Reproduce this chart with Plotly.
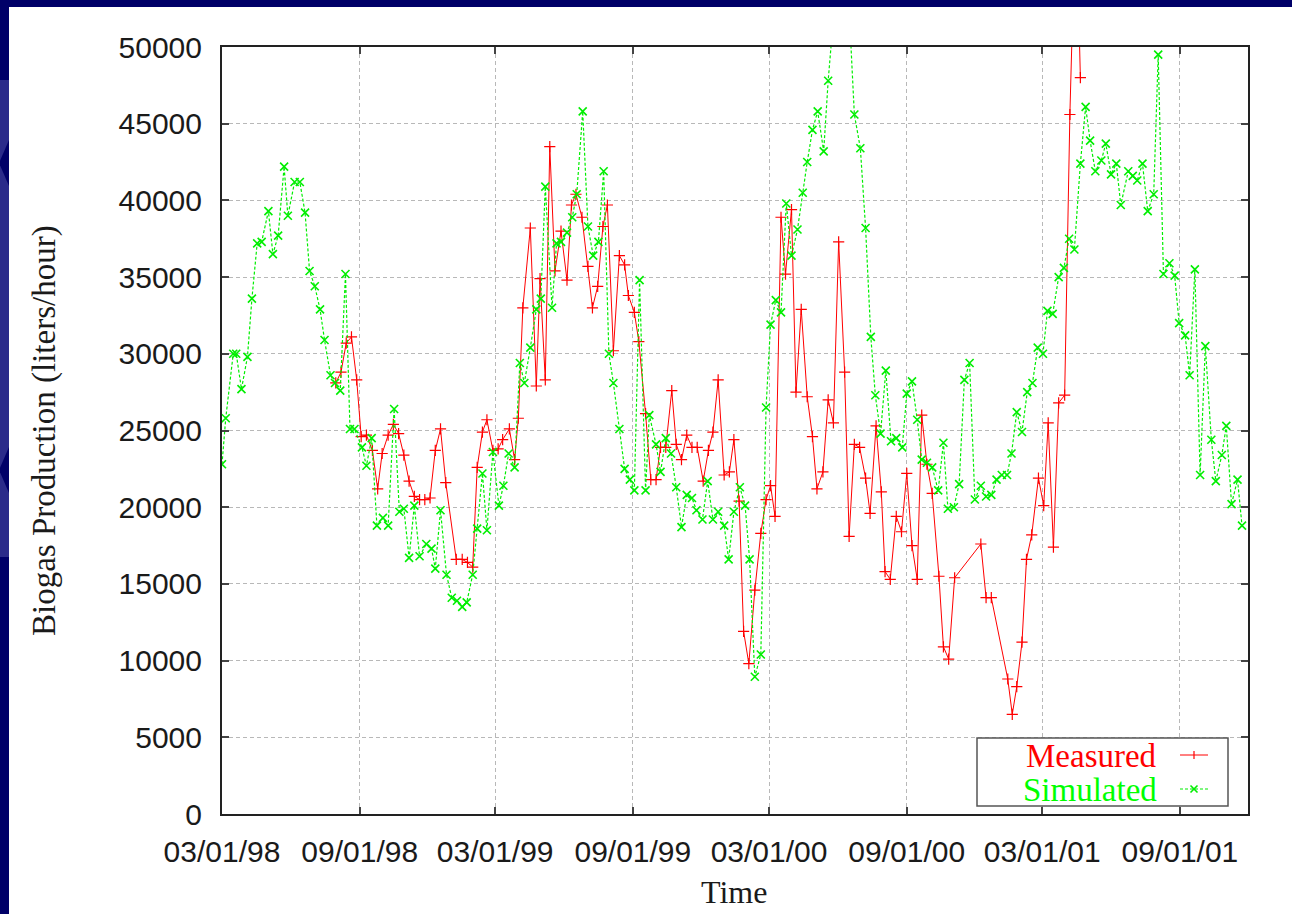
import plotly.graph_objects as go

# Weekly biogas production, measured vs. simulated (liters/hour)
meas_dates = [
    "1998-07-31", "1998-08-07", "1998-08-14", "1998-08-21", "1998-08-28", "1998-09-03",
    "1998-09-10", "1998-09-18", "1998-09-25", "1998-10-01", "1998-10-09", "1998-10-16",
    "1998-10-23", "1998-10-30", "1998-11-06", "1998-11-13", "1998-11-20", "1998-11-27",
    "1998-12-04", "1998-12-11", "1998-12-18", "1998-12-25", "1999-01-08", "1999-01-16",
    "1999-01-23", "1999-01-30", "1999-02-05", "1999-02-12", "1999-02-18", "1999-02-26",
    "1999-03-05", "1999-03-11", "1999-03-20", "1999-03-27", "1999-04-01", "1999-04-07",
    "1999-04-17", "1999-04-25", "1999-04-30", "1999-05-07", "1999-05-13", "1999-05-20",
    "1999-05-28", "1999-06-05", "1999-06-11", "1999-06-17", "1999-06-25", "1999-07-03",
    "1999-07-09", "1999-07-16", "1999-07-23", "1999-07-29", "1999-08-06", "1999-08-14",
    "1999-08-21", "1999-08-26", "1999-09-03", "1999-09-09", "1999-09-18", "1999-09-25",
    "1999-10-02", "1999-10-08", "1999-10-15", "1999-10-23", "1999-10-29", "1999-11-05",
    "1999-11-12", "1999-11-19", "1999-11-26", "1999-12-04", "1999-12-11", "1999-12-17",
    "1999-12-24", "2000-01-01", "2000-01-08", "2000-01-14", "2000-01-21", "2000-01-27",
    "2000-02-03", "2000-02-11", "2000-02-19", "2000-02-26", "2000-03-03", "2000-03-09",
    "2000-03-17", "2000-03-23", "2000-03-31", "2000-04-06", "2000-04-13", "2000-04-21",
    "2000-04-28", "2000-05-04", "2000-05-12", "2000-05-19", "2000-05-26", "2000-06-02",
    "2000-06-10", "2000-06-16", "2000-06-23", "2000-06-30", "2000-07-08", "2000-07-14",
    "2000-07-22", "2000-07-29", "2000-08-03", "2000-08-10", "2000-08-18", "2000-08-25",
    "2000-09-01", "2000-09-08", "2000-09-15", "2000-09-21", "2000-09-28", "2000-10-05",
    "2000-10-14", "2000-10-20", "2000-10-27", "2000-11-04", "2000-12-09", "2000-12-16",
    "2000-12-23", "2001-01-14", "2001-01-20", "2001-01-26", "2001-02-02", "2001-02-08",
    "2001-02-15", "2001-02-24", "2001-03-03", "2001-03-09", "2001-03-16", "2001-03-23",
    "2001-03-31", "2001-04-07", "2001-04-15", "2001-04-21",
]
meas_values = [
    28100, 28800, 30700, 31100, 28300, 24600,
    24700, 23700, 21200, 23500, 24700, 25400,
    24800, 23400, 21700, 20700, 20500, 20500,
    20600, 23700, 25100, 21600, 16600, 16600,
    16400, 16100, 22600, 24900, 25700, 23700,
    23800, 24400, 25100, 23100, 25800, 33000,
    38200, 27900, 34900, 28300, 43500, 35400,
    38000, 34800, 39700, 40400, 38900, 35700,
    33000, 34400, 38300, 39700, 30200, 36400,
    35800, 33800, 32700, 30800, 26100, 21800,
    21800, 23900, 23900, 27600, 24100, 23100,
    24700, 23900, 23900, 21700, 23700, 24900,
    28300, 22100, 22300, 24400, 20400, 11900,
    9800, 14600, 18300, 20500, 21400, 19400,
    38900, 35200, 39400, 27500, 32900, 27200,
    24600, 21200, 22300, 27000, 25500, 37300,
    28800, 18100, 24100, 23900, 21900, 19600,
    25300, 21000, 15800, 15300, 19400, 18400,
    22200, 17500, 15300, 26000, 22800, 20900,
    15500, 10900, 10100, 15400, 17600, 14100,
    14100, 8800, 6500, 8300, 11200, 16600,
    18200, 21900, 20100, 25500, 17400, 26800,
    27300, 45600, 60000, 48000,
]

sim_dates = [
    "1998-03-01", "1998-03-06", "1998-03-16", "1998-03-20", "1998-03-27", "1998-04-04",
    "1998-04-10", "1998-04-17", "1998-04-23", "1998-05-02", "1998-05-08", "1998-05-15",
    "1998-05-23", "1998-05-28", "1998-06-06", "1998-06-13", "1998-06-20", "1998-06-26",
    "1998-07-03", "1998-07-10", "1998-07-16", "1998-07-24", "1998-07-30", "1998-08-06",
    "1998-08-13", "1998-08-19", "1998-08-25", "1998-09-04", "1998-09-10", "1998-09-17",
    "1998-09-24", "1998-10-02", "1998-10-09", "1998-10-17", "1998-10-24", "1998-10-30",
    "1998-11-06", "1998-11-13", "1998-11-20", "1998-11-29", "1998-12-06", "1998-12-11",
    "1998-12-18", "1998-12-26", "1999-01-02", "1999-01-09", "1999-01-16", "1999-01-22",
    "1999-01-30", "1999-02-05", "1999-02-12", "1999-02-18", "1999-02-26", "1999-03-06",
    "1999-03-12", "1999-03-19", "1999-03-27", "1999-04-03", "1999-04-09", "1999-04-17",
    "1999-04-25", "1999-05-01", "1999-05-07", "1999-05-16", "1999-05-22", "1999-05-28",
    "1999-06-05", "1999-06-12", "1999-06-18", "1999-06-26", "1999-07-03", "1999-07-10",
    "1999-07-17", "1999-07-24", "1999-07-31", "1999-08-06", "1999-08-14", "1999-08-21",
    "1999-08-28", "1999-09-03", "1999-09-10", "1999-09-18", "1999-09-23", "1999-10-02",
    "1999-10-08", "1999-10-15", "1999-10-22", "1999-10-29", "1999-11-05", "1999-11-12",
    "1999-11-19", "1999-11-25", "1999-12-03", "1999-12-10", "1999-12-17", "1999-12-24",
    "2000-01-01", "2000-01-07", "2000-01-14", "2000-01-22", "2000-01-29", "2000-02-04",
    "2000-02-11", "2000-02-19", "2000-02-26", "2000-03-03", "2000-03-10", "2000-03-17",
    "2000-03-24", "2000-03-31", "2000-04-08", "2000-04-15", "2000-04-21", "2000-04-28",
    "2000-05-05", "2000-05-13", "2000-05-19", "2000-05-27", "2000-06-02", "2000-06-09",
    "2000-06-17", "2000-06-23", "2000-07-01", "2000-07-08", "2000-07-15", "2000-07-21",
    "2000-07-28", "2000-08-04", "2000-08-11", "2000-08-18", "2000-08-26", "2000-09-01",
    "2000-09-08", "2000-09-15", "2000-09-21", "2000-09-28", "2000-10-05", "2000-10-13",
    "2000-10-20", "2000-10-26", "2000-11-03", "2000-11-10", "2000-11-17", "2000-11-24",
    "2000-12-01", "2000-12-09", "2000-12-16", "2000-12-23", "2000-12-30", "2001-01-06",
    "2001-01-13", "2001-01-19", "2001-01-26", "2001-02-02", "2001-02-09", "2001-02-16",
    "2001-02-23", "2001-03-02", "2001-03-08", "2001-03-15", "2001-03-23", "2001-03-30",
    "2001-04-06", "2001-04-13", "2001-04-21", "2001-04-28", "2001-05-04", "2001-05-11",
    "2001-05-19", "2001-05-25", "2001-06-01", "2001-06-08", "2001-06-14", "2001-06-24",
    "2001-06-30", "2001-07-06", "2001-07-13", "2001-07-20", "2001-07-28", "2001-08-03",
    "2001-08-10", "2001-08-18", "2001-08-25", "2001-08-31", "2001-09-08", "2001-09-14",
    "2001-09-21", "2001-09-28", "2001-10-05", "2001-10-13", "2001-10-19", "2001-10-27",
    "2001-11-02", "2001-11-09", "2001-11-17", "2001-11-23",
]
sim_values = [
    22800, 25800, 30000, 30000, 27700, 29800,
    33600, 37200, 37300, 39300, 36500, 37700,
    42200, 39000, 41200, 41200, 39200, 35400,
    34400, 32900, 30900, 28600, 28100, 27600,
    35200, 25100, 25100, 23900, 22700, 24500,
    18800, 19300, 18800, 26400, 19700, 19900,
    16700, 20100, 16800, 17600, 17300, 16000,
    19800, 15600, 14100, 13900, 13500, 13800,
    15600, 18600, 22200, 18500, 23600, 20100,
    21400, 23500, 22600, 29400, 28100, 30400,
    32900, 33600, 40900, 33000, 37200, 37300,
    37900, 38900, 40400, 45800, 38300, 36400,
    37300, 41900, 30000, 28100, 25100, 22500,
    21800, 21100, 34800, 21100, 26000, 24100,
    22300, 24500, 23500, 21300, 18700, 20800,
    20600, 19800, 19200, 21700, 19200, 19700,
    18800, 16600, 19700, 21300, 20100, 16600,
    8950, 10400, 26500, 31900, 33500, 32700,
    39800, 36400, 38100, 40500, 42500, 44600,
    45800, 43200, 47800, 52500, 55000, 54000,
    51500, 45600, 43400, 38200, 31100, 27300,
    24800, 28900, 24300, 24500, 23900, 27400,
    28200, 25700, 23100, 22900, 22600, 21100,
    24200, 19900, 20000, 21500, 28300, 29400,
    20500, 21400, 20700, 20800, 21800, 22100,
    22100, 23500, 26200, 24900, 27500, 28100,
    30400, 30000, 32800, 32600, 35000, 35600,
    37500, 36800, 42400, 46100, 43900, 41900,
    42600, 43700, 41700, 42400, 39700, 41900,
    41600, 41300, 42400, 39300, 40400, 49500,
    35200, 35900, 35100, 32000, 31200, 28600,
    35500, 22100, 30500, 24400, 21700, 23400,
    25300, 20200, 21800, 18800,
]

x_ticks = [
    "1998-03-01", "1998-09-01", "1999-03-01", "1999-09-01",
    "2000-03-01", "2000-09-01", "2001-03-01", "2001-09-01",
]
x_range = ["1998-03-01", "2001-12-01"]
y_range = [0, 50000]

RED = "#ff0000"
GREEN = "#00ee00"
NAVY = "#000068"
SLATE = "#2b2b8a"
SERIF = "Liberation Serif, Times New Roman, serif"
SANS = "Liberation Sans, Arial, sans-serif"

fig = go.Figure()
fig.add_trace(go.Scatter(
    x=meas_dates, y=meas_values, mode="lines+markers", name="Measured",
    line=dict(color=RED, width=1),
    marker=dict(symbol="cross-thin-open", size=8, color=RED, line=dict(color=RED, width=1.2)),
))
fig.add_trace(go.Scatter(
    x=sim_dates, y=sim_values, mode="lines+markers", name="Simulated",
    line=dict(color=GREEN, width=1.2, dash="3px,2px"),
    marker=dict(symbol="x-thin-open", size=8, color=GREEN, line=dict(color=GREEN, width=1.6)),
))

axis_common = dict(
    ticks="inside", ticklen=7, tickwidth=2, tickcolor="#444444",
    showline=True, linewidth=2, linecolor="#222222", mirror="allticks",
    showgrid=True, gridcolor="#b8b8b8", gridwidth=1, griddash="4px,3px",
    zeroline=False, tickfont=dict(family=SANS, size=30, color="#1a1a1a"),
)
fig.update_xaxes(type="date", range=x_range, tickvals=x_ticks, tickformat="%m/%d/%y",
                 ticklabelstandoff=10, **axis_common)
fig.update_yaxes(range=y_range, tick0=0, dtick=5000, tickformat="d",
                 ticklabelstandoff=12, **axis_common)

# Plot area in pixels: x 222..1248, y 47..814
PL, PR, PT, PB = 222, 1248, 47, 814


def px(x):
    return (x - PL) / (PR - PL)


def py(y):
    return (PB - y) / (PB - PT)


shapes = [
    # slide frame
    dict(type="rect", xref="paper", yref="paper", x0=px(-20), x1=px(1300), y0=py(7), y1=py(-20),
         fillcolor=NAVY, line=dict(width=0), layer="above"),
    dict(type="rect", xref="paper", yref="paper", x0=px(-20), x1=px(9), y0=py(930), y1=py(-20),
         fillcolor=NAVY, line=dict(width=0), layer="above"),
    dict(type="rect", xref="paper", yref="paper", x0=px(-20), x1=px(9), y0=py(557), y1=py(80),
         fillcolor=SLATE, line=dict(width=0), layer="above"),
    dict(type="path", xref="paper", yref="paper",
         path=f"M {px(-1)},{py(163)} L {px(9)},{py(140)} L {px(9)},{py(186)} Z",
         fillcolor=NAVY, line=dict(width=0), layer="above"),
    dict(type="path", xref="paper", yref="paper",
         path=f"M {px(-1)},{py(470)} L {px(9)},{py(447)} L {px(9)},{py(493)} Z",
         fillcolor=NAVY, line=dict(width=0), layer="above"),
    # key box
    dict(type="rect", xref="paper", yref="paper", x0=px(977), x1=px(1228), y0=py(806), y1=py(738),
         fillcolor="white", line=dict(color="#555555", width=1.5), layer="above"),
    dict(type="line", xref="paper", yref="paper", x0=px(1180), x1=px(1208), y0=py(755), y1=py(755),
         line=dict(color=RED, width=1), layer="above"),
    dict(type="line", xref="paper", yref="paper", x0=px(1194), x1=px(1194), y0=py(751), y1=py(759),
         line=dict(color=RED, width=1.2), layer="above"),
    dict(type="line", xref="paper", yref="paper", x0=px(1180), x1=px(1208), y0=py(789), y1=py(789),
         line=dict(color=GREEN, width=1.2, dash="3px,2px"), layer="above"),
    dict(type="line", xref="paper", yref="paper", x0=px(1190.5), x1=px(1197.5), y0=py(785.5), y1=py(792.5),
         line=dict(color=GREEN, width=1.6), layer="above"),
    dict(type="line", xref="paper", yref="paper", x0=px(1190.5), x1=px(1197.5), y0=py(792.5), y1=py(785.5),
         line=dict(color=GREEN, width=1.6), layer="above"),
]

annotations = [
    dict(text="Biogas Production (liters/hour)", xref="paper", yref="paper",
         x=px(45), y=py(431), textangle=-90, showarrow=False,
         xanchor="center", yanchor="middle", font=dict(family=SERIF, size=33, color="#1a1a1a")),
    dict(text="Time", xref="paper", yref="paper", x=px(734), y=py(892), showarrow=False,
         xanchor="center", yanchor="middle", font=dict(family=SERIF, size=32, color="#1a1a1a")),
    dict(text="Measured", xref="paper", yref="paper", x=px(1159), y=py(756), showarrow=False,
         xanchor="right", yanchor="middle", font=dict(family=SERIF, size=33, color=RED)),
    dict(text="Simulated", xref="paper", yref="paper", x=px(1159), y=py(790), showarrow=False,
         xanchor="right", yanchor="middle", font=dict(family=SERIF, size=33, color="#00ff00")),
]

fig.update_layout(
    width=1292, height=914,
    margin=dict(l=PL, r=1292 - PR, t=PT, b=914 - PB, pad=0),
    paper_bgcolor="white", plot_bgcolor="white",
    showlegend=False,
    shapes=shapes, annotations=annotations,
)

fig.write_html("out.html")
